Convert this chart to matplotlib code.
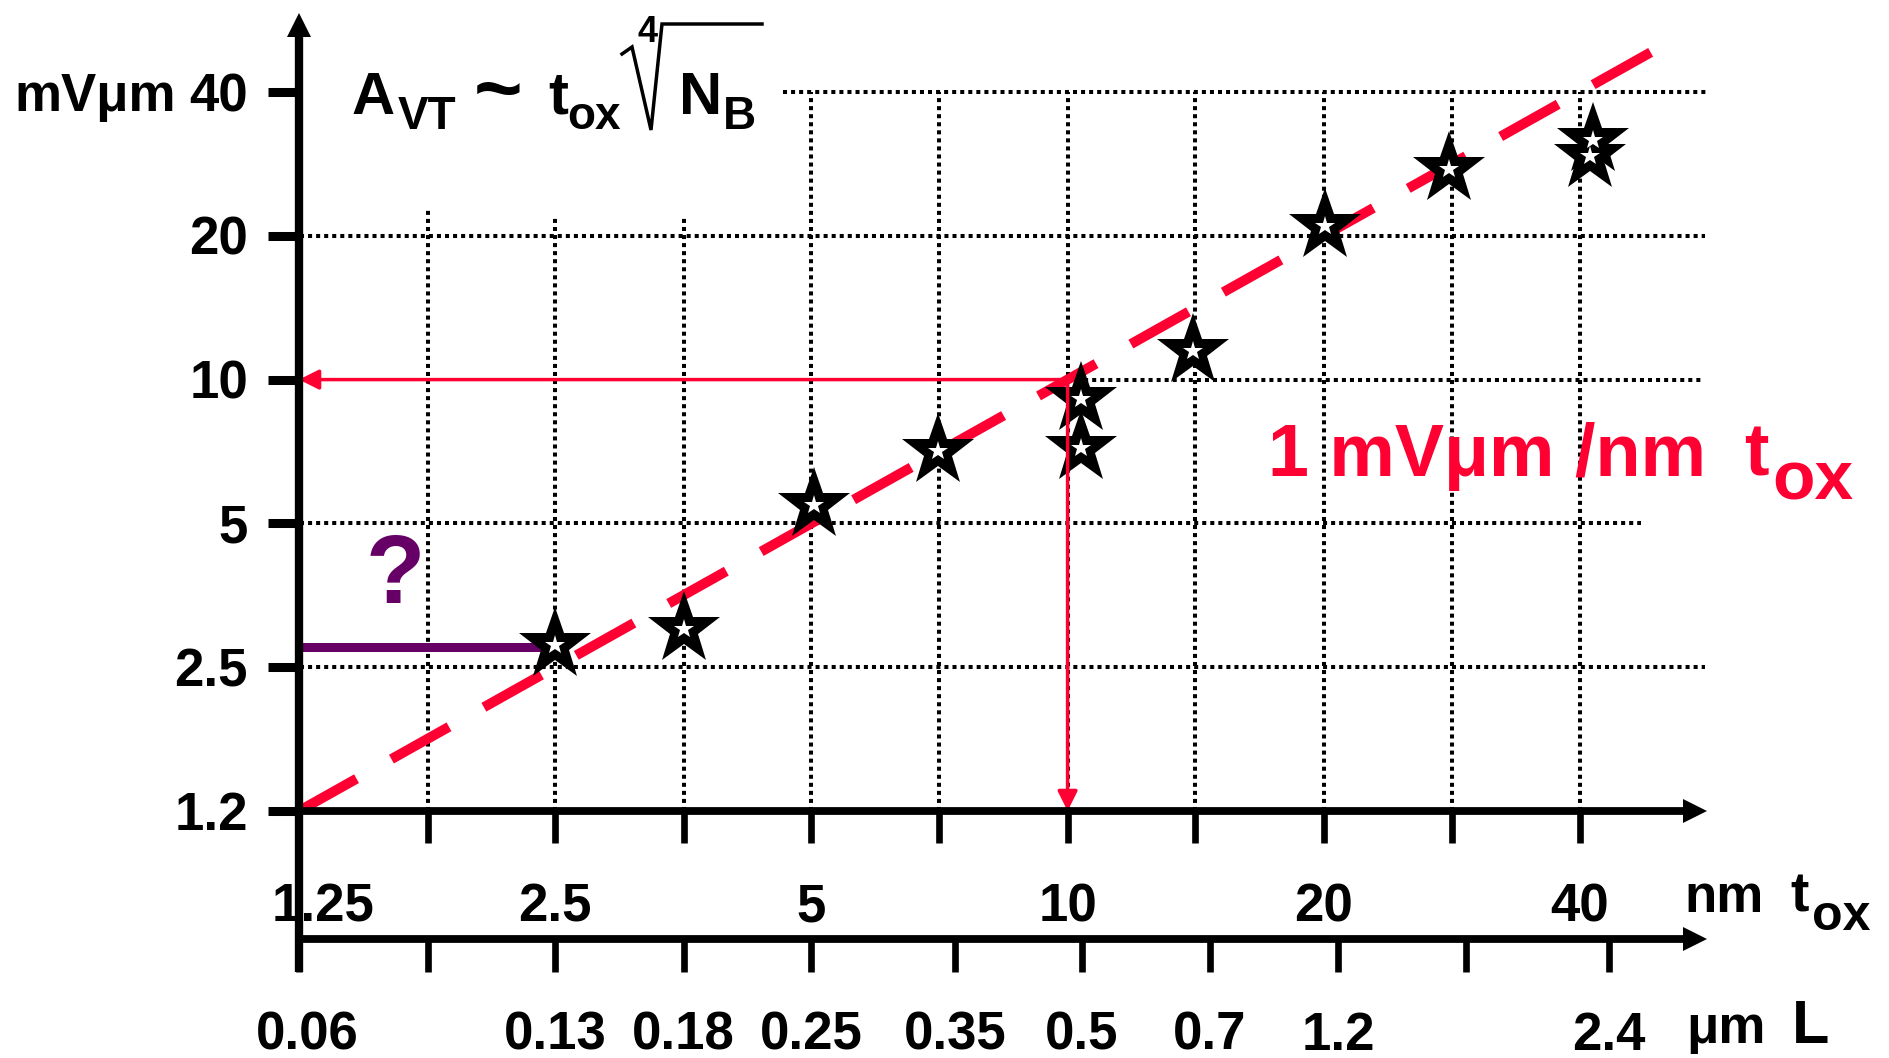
import matplotlib
matplotlib.use("Agg")
import matplotlib.pyplot as plt
import matplotlib.transforms as mtransforms

plt.rcParams["font.family"] = ["Liberation Sans", "DejaVu Sans"]
plt.rcParams["font.weight"] = "bold"

# ---- data ----
# oxide thickness axis (nm), grid every half octave
tox_ticks = [1.25, 1.77, 2.5, 3.54, 5, 7.07, 10, 14.1, 20, 28.3, 40]
tox_labels = ["1.25", "", "2.5", "", "5", "", "10", "", "20", "", "40"]
# gate length axis (um), positions given as the tox they sit under
L_ticks_at_tox = [1.25, 1.77, 2.5, 3.54, 5, 7.37, 10.4, 14.7, 20.8, 29.4, 43.3]
L_labels = ["0.06", "", "0.13", "0.18", "0.25", "0.35", "0.5", "0.7", "1.2", "", "2.4"]
# AVT axis (mV um)
avt_ticks = [1.25, 2.5, 5, 10, 20, 40]
avt_labels = ["1.2", "2.5", "5", "10", "20", "40"]

# measured processes
star_tox = [2.5, 3.54, 5.03, 7.04, 10.37, 10.37, 14.04, 20.05, 28.1, 41.4, 41.1]
star_avt = [2.78, 3.00, 5.46, 7.10, 9.1, 7.2, 11.5, 21.0, 27.6, 31.8, 29.4]

# 1 mVum per nm tox trend line
fit_slope = 1.0
fit_tox = [1.25, 49.0]
fit_avt = [fit_slope * t for t in fit_tox]

# guide 10 nm -> 10 mVum, and the "?" level for the future node
guide_tox, guide_avt = 10, 10
question_avt = 2.76
question_tox = [1.25, 2.41]

RED = "#ff0033"
PURPLE = "#660066"

# ---- layout (pixels of the original drawing) ----
W, H = 1890, 1058
X0, XOCT = 299.0, 256.2   # px of tox=1.25, px per octave
Y0, YOCT = 811.0, 143.8   # px of AVT=1.25, px per octave

fig = plt.figure(figsize=(W / 100, H / 100), dpi=100)
ax = fig.add_axes([0, 0, 1, 1])
ax.set_xscale("log", base=2)
ax.set_yscale("log", base=2)
ax.set_xlim(1.25 * 2 ** (-X0 / XOCT), 1.25 * 2 ** ((W - X0) / XOCT))
ax.set_ylim(1.25 * 2 ** (-(H - Y0) / YOCT), 1.25 * 2 ** (Y0 / YOCT))
ax.axis("off")

pxa = fig.add_axes([0, 0, 1, 1])
pxa.set_xlim(0, W)
pxa.set_ylim(H, 0)
pxa.axis("off")
pxa.patch.set_visible(False)
P = pxa.transData
bx = mtransforms.blended_transform_factory(ax.transData, P)   # x data, y px
by = mtransforms.blended_transform_factory(P, ax.transData)   # x px, y data

# grid
grid_kw = dict(color="k", lw=2.9, ls=(0, (1, 1)), zorder=1)
vtop = [210, 217, 217, 92, 92, 92, 92, 92, 92, 92]
for t, top in zip(tox_ticks[1:], vtop):
    ax.plot([t, t], [Y0, top], transform=bx, **grid_kw)
hspan = {2.5: (300, 1705), 5: (300, 1641), 10: (1068, 1704), 20: (300, 1705), 40: (783, 1707)}
for v, (a, b) in hspan.items():
    ax.plot([a, b], [v, v], transform=by, **grid_kw)

# trend line
ax.plot(fit_tox, fit_avt, color=RED, lw=7.2, ls=(0, (6.6, 4.0)), zorder=2)

# question level
ax.plot(question_tox, [question_avt] * 2, color=PURPLE, lw=6.5,
        solid_capstyle="butt", zorder=3)
ax.text(395, 603, "?", transform=P, fontsize=70, color=PURPLE, ha="center", va="baseline")

# stars
ax.plot(star_tox, star_avt, ls="none", marker="*", ms=55, mfc="k", mec="k", mew=0, zorder=4)
ax.plot(star_tox, star_avt, ls="none", marker="*", ms=15, mfc="w", mec="w", mew=0, zorder=4.5)

# red guide arrows
aprops = dict(arrowstyle="-|>,head_length=0.6,head_width=0.3", color=RED, lw=2.5,
              shrinkA=0, shrinkB=0, mutation_scale=20)
ax.annotate("", xy=(avt_ticks[0], guide_avt), xytext=(guide_tox, guide_avt),
            arrowprops=aprops, zorder=5)
ax.annotate("", xy=(guide_tox, avt_ticks[0]), xytext=(guide_tox, guide_avt),
            arrowprops=aprops, zorder=5)

# axes drawn by hand
line_kw = dict(color="k", solid_capstyle="butt", zorder=6)
ax.plot([1.25, 1.25], [972, 30], transform=bx, lw=6, **line_kw)
ax.plot([1.25], [25], transform=bx, marker="^", ms=17.5, color="k", mew=0, zorder=6)
ax.plot([295, 1697], [1.25, 1.25], transform=by, lw=5.6, **line_kw)
ax.plot([1695], [1.25], transform=by, marker=">", ms=17.5, color="k", mew=0, zorder=6)
ax.plot([295, 1697], [939, 939], transform=P, lw=5.6, **line_kw)
ax.plot([1695], [939], transform=P, marker=">", ms=17.5, color="k", mew=0, zorder=6)

for v in avt_ticks:
    ax.plot([268, 300], [v, v], transform=by, lw=6.5, **line_kw)
for t in tox_ticks:
    ax.plot([t, t], [812, 843], transform=bx, lw=4.8, **line_kw)
for t in L_ticks_at_tox:
    ax.plot([t, t], [939, 972], transform=bx, lw=4.8, **line_kw)

# tick labels
FS = 38
ylab_tr = mtransforms.offset_copy(by, fig=fig, x=0, y=-19, units="dots")
for v, s in zip(avt_ticks, avt_labels):
    ax.text(248, v, s, transform=ylab_tr, fontsize=FS, ha="right", va="baseline")
ax.text(176, 111, "mV\u03bcm", transform=P, fontsize=FS, ha="right", va="baseline")

for i, (t, s) in enumerate(zip(tox_ticks, tox_labels)):
    tr = mtransforms.offset_copy(bx, fig=fig, x=24 if i == 0 else 0, y=0, units="dots")
    ax.text(t, 922, s, transform=tr, fontsize=FS, ha="center", va="baseline")
for i, (t, s) in enumerate(zip(L_ticks_at_tox, L_labels)):
    tr = mtransforms.offset_copy(bx, fig=fig, x=8 if i == 0 else 0, y=0, units="dots")
    ax.text(t, 1050, s, transform=tr, fontsize=FS, ha="center", va="baseline")

ax.text(1684, 912, "nm", transform=P, fontsize=FS, ha="left", va="baseline")
ax.text(1790, 912, "t", transform=P, fontsize=40, ha="left", va="baseline")
ax.text(1812, 930, "ox", transform=P, fontsize=36, ha="left", va="baseline")
ax.text(1686, 1043, "\u03bcm", transform=P, fontsize=FS, ha="left", va="baseline")
ax.text(1792, 1043, "L", transform=P, fontsize=44, ha="left", va="baseline")

# formula  A_VT ~ t_ox * 4th-root(N_B)
ax.text(352, 114, "A", transform=P, fontsize=43, va="baseline")
ax.text(398, 129, "VT", transform=P, fontsize=33, va="baseline")
ax.text(474, 116, "~", transform=P, fontsize=60, va="baseline")
ax.text(548, 114, "t", transform=P, fontsize=43, va="baseline")
ax.text(567, 129, "ox", transform=P, fontsize=33, va="baseline")
ax.plot([622, 632, 651, 662, 762], [54, 47, 130, 24, 24], transform=P,
        color="k", lw=2.5, solid_joinstyle="miter", zorder=6)
ax.text(638, 42, "4", transform=P, fontsize=26, va="baseline")
ax.text(679, 114, "N", transform=P, fontsize=43, va="baseline")
ax.text(723, 129, "B", transform=P, fontsize=33, va="baseline")

# slope label
ax.text(1268, 476, "1 mV\u03bcm /nm", transform=P, fontsize=53, color=RED, va="baseline")
ax.text(1744, 476, "t", transform=P, fontsize=53, color=RED, va="baseline")
ax.text(1772, 499, "ox", transform=P, fontsize=50, color=RED, va="baseline")

fig.savefig("out.png", dpi=100)
